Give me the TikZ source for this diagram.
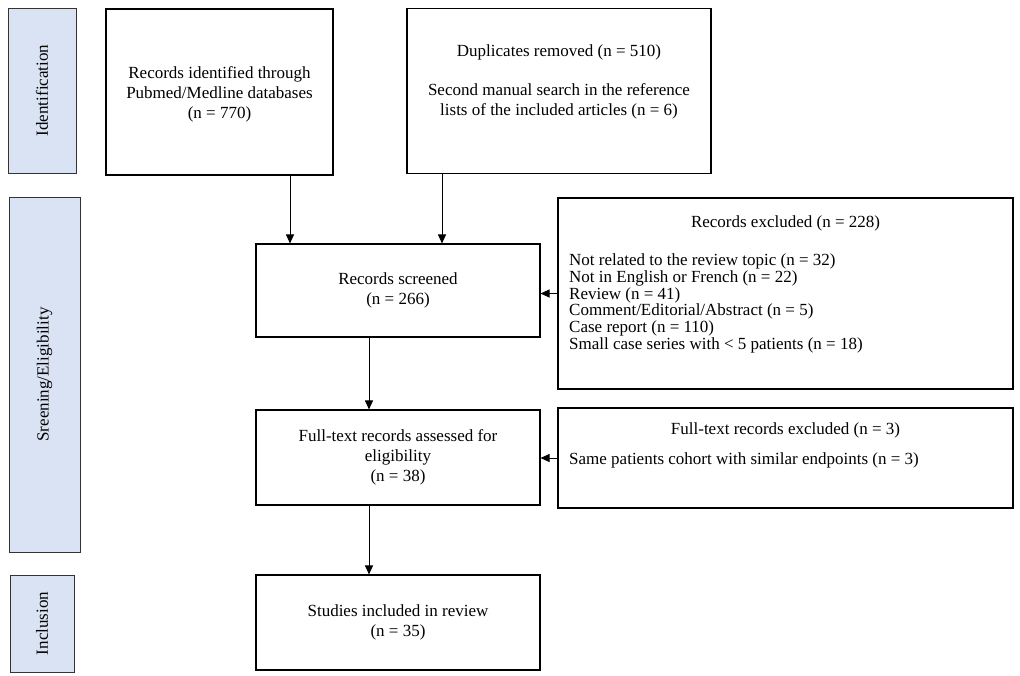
\documentclass[tikz,border=0pt]{standalone}
\usepackage{fontspec}
\setmainfont{Liberation Serif}
\usetikzlibrary{arrows.meta}
\definecolor{bandblue}{HTML}{DAE3F3}
\begin{document}
\begin{tikzpicture}[x=1pt,y=-1pt,
  txt/.style={font=\fontsize{17}{19.5}\selectfont, inner sep=0pt, align=center},
  box/.style={draw, line width=1.1pt, inner sep=0pt, align=center, font=\fontsize{17}{20}\selectfont},
  band/.style={draw=black!80, fill=bandblue, line width=1pt, inner sep=0pt},
  bandtxt/.style={font=\fontsize{17}{20}\selectfont, rotate=90, inner sep=0pt},
  arr/.style={-{Triangle[length=9pt,width=8pt]}, line width=1pt}]
\useasboundingbox (0,0) rectangle (1020,675);
% bands
\node[band, minimum width=68pt, minimum height=165pt] (bid) at (42,90.5) {};
\node[bandtxt] (tid) at (bid.center) {Identification};
\node[band, minimum width=71pt, minimum height=355pt] (bsc) at (44.5,374.5) {};
\node[bandtxt] (tsc) at (bsc.center) {Sreening/Eligibility};
\node[band, minimum width=64pt, minimum height=97pt] (bin) at (42,623.5) {};
\node[bandtxt] (tin) at (bin.center) {Inclusion};
% boxes
\node[box, minimum width=227pt, minimum height=166pt] (A) at (219.5,92) {};
\node[txt, font=\fontsize{17}{20}\selectfont] (At) at (219.5,94)
  {Records identified through\\Pubmed/Medline databases\\(n = 770)};
\node[box, minimum width=304pt, minimum height=165pt] (B) at (559,91) {};
\node[txt] (Bt) at (559,81.5) {Duplicates removed (n = 510)\\[20pt]Second manual search in the reference\\lists of the included articles (n = 6)};
\node[box, minimum width=284pt, minimum height=93pt] (S) at (398,290.5)
  {Records screened\\(n = 266)};
\node[box, minimum width=455pt, minimum height=191pt] (E) at (785.5,293.5) {};
\node[txt] (Et) at (785.5,223) {Records excluded (n = 228)};
\node[txt, anchor=north west, align=left, font=\fontsize{17}{16.8}\selectfont] (El) at (569,253.5)
  {Not related to the review topic (n = 32)\\
   Not in English or French (n = 22)\\
   Review (n = 41)\\
   Comment/Editorial/Abstract (n = 5)\\
   Case report (n = 110)\\
   Small case series with < 5 patients (n = 18)};
\node[box, minimum width=284pt, minimum height=95pt] (F) at (398,457.5)
  {Full-text records assessed for\\eligibility\\(n = 38)};
\node[box, minimum width=455pt, minimum height=100pt] (G) at (785.5,458) {};
\node[txt] (Gt) at (785.5,430) {Full-text records excluded (n = 3)};
\node[txt, anchor=west] (Gl) at (569,460) {Same patients cohort with similar endpoints (n = 3)};
\node[box, minimum width=284pt, minimum height=95pt] (R) at (398,622.5)
  {Studies included in review\\(n = 35)};
% connectors
\coordinate (xa) at (290,0);
\coordinate (xb) at (442,0);
\coordinate (xc) at (369,0);
\draw[arr] (A.south -| xa) -- (S.north -| xa);
\draw[arr] (B.south -| xb) -- (S.north -| xb);
\draw[arr] (E.west) -- (S.east |- E.west);
\draw[arr] (S.south -| xc) -- (F.north -| xc);
\draw[arr] (G.west) -- (F.east |- G.west);
\draw[arr] (F.south -| xc) -- (R.north -| xc);
\end{tikzpicture}
\end{document}
